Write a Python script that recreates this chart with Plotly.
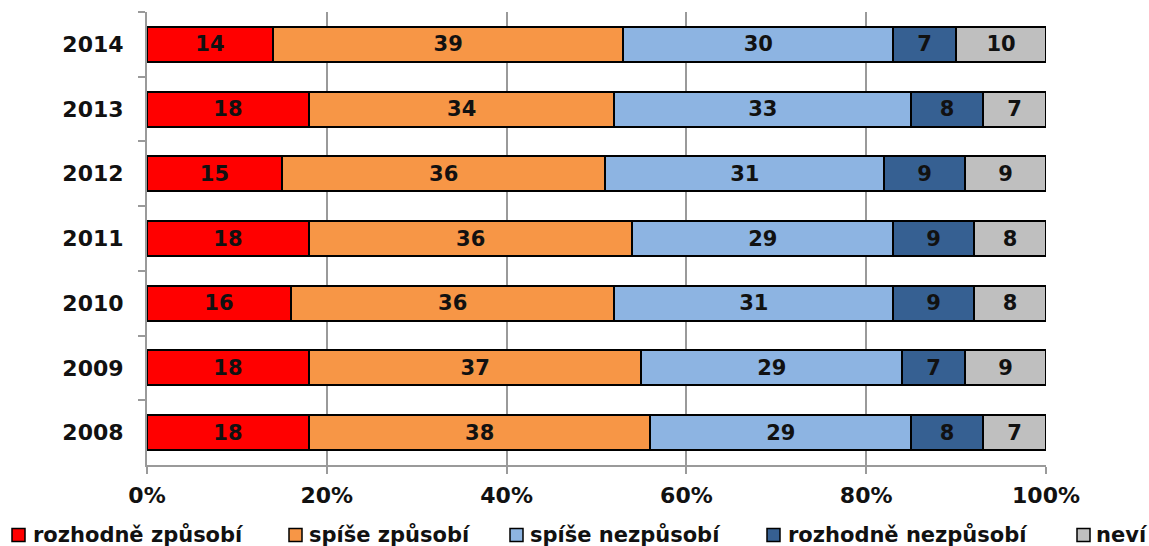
import plotly.graph_objects as go

years = ["2014", "2013", "2012", "2011", "2010", "2009", "2008"]
series_names = ["rozhodně způsobí", "spíše způsobí", "spíše nezpůsobí", "rozhodně nezpůsobí", "neví"]
rozhodne_zpusobi = [14, 18, 15, 18, 16, 18, 18]
spise_zpusobi = [39, 34, 36, 36, 36, 37, 38]
spise_nezpusobi = [30, 33, 31, 29, 31, 29, 29]
rozhodne_nezpusobi = [7, 8, 9, 9, 9, 7, 8]
nevi = [10, 7, 9, 8, 8, 9, 7]
x_ticks = [0, 20, 40, 60, 80, 100]
x_tick_labels = ["0%", "20%", "40%", "60%", "80%", "100%"]

colors = ["#FF0000", "#F79646", "#8DB4E2", "#366092", "#BFBFBF"]
series_values = [rozhodne_zpusobi, spise_zpusobi, spise_nezpusobi, rozhodne_nezpusobi, nevi]

W, H = 1149, 546
ML, MR, MT, MB = 147, 103, 12, 81
PW, PH = W - ML - MR, H - MT - MB


def px_x(p):
    return (p - ML) / PW


def px_y(p):
    return (H - MB - p) / PH


fig = go.Figure()
for name, vals, col in zip(series_names, series_values, colors):
    fig.add_trace(go.Bar(
        y=years, x=vals, name=name, orientation="h",
        marker=dict(color=col, line=dict(color="#000000", width=2)),
        text=[str(v) for v in vals], textposition="inside",
        insidetextanchor="middle",
        textfont=dict(family="DejaVu Sans", size=21, color="#111111", weight="bold"),
        constraintext="none",
        hoverinfo="skip",
        showlegend=False,
    ))

# manual legend (square + label), positioned in pixels
legend_square_x = [12, 289, 510, 767, 1077]
legend_text_x = [31, 307, 528, 786, 1094]
sq = 13
legend_cy = 535
shapes = []
annotations = []
for name, col, sx, tx in zip(series_names, colors, legend_square_x, legend_text_x):
    shapes.append(dict(
        type="rect", xref="paper", yref="paper",
        x0=px_x(sx), x1=px_x(sx + sq),
        y0=px_y(legend_cy + sq / 2), y1=px_y(legend_cy - sq / 2),
        fillcolor=col, line=dict(color="#000000", width=1.5),
    ))
    annotations.append(dict(
        xref="paper", yref="paper", x=px_x(tx), y=px_y(legend_cy),
        xanchor="left", yanchor="middle", text=name, showarrow=False,
        font=dict(family="DejaVu Sans", size=21, color="#111111", weight="bold"),
    ))

fig.update_layout(
    barmode="stack",
    bargap=0.46,
    width=W, height=H,
    margin=dict(l=ML, r=MR, t=MT, b=MB, autoexpand=False),
    plot_bgcolor="white", paper_bgcolor="white",
    font=dict(family="DejaVu Sans", color="#111111"),
    showlegend=False,
    shapes=shapes,
    annotations=annotations,
)
fig.update_xaxes(
    range=[0, 100], tickvals=x_ticks, ticktext=x_tick_labels,
    showgrid=True, gridcolor="#9A9A9A", gridwidth=1.5,
    showline=True, linecolor="#9A9A9A", linewidth=2,
    ticks="outside", ticklen=7, tickcolor="#9A9A9A", tickwidth=2,
    tickfont=dict(family="DejaVu Sans", size=22, color="#111111", weight="bold"),
    ticklabelstandoff=3,
    zeroline=False, automargin=False,
)
fig.update_yaxes(
    autorange="reversed", type="category",
    showline=True, linecolor="#9A9A9A", linewidth=2,
    ticks="outside", tickson="boundaries", ticklen=7, tickcolor="#9A9A9A", tickwidth=2,
    tickfont=dict(family="DejaVu Sans", size=22, color="#111111", weight="bold"),
    ticklabelstandoff=17,
    showgrid=False, automargin=False,
)

fig.write_html("out.html", config={"displayModeBar": False},
               post_script="document.body.style.margin='0';")
